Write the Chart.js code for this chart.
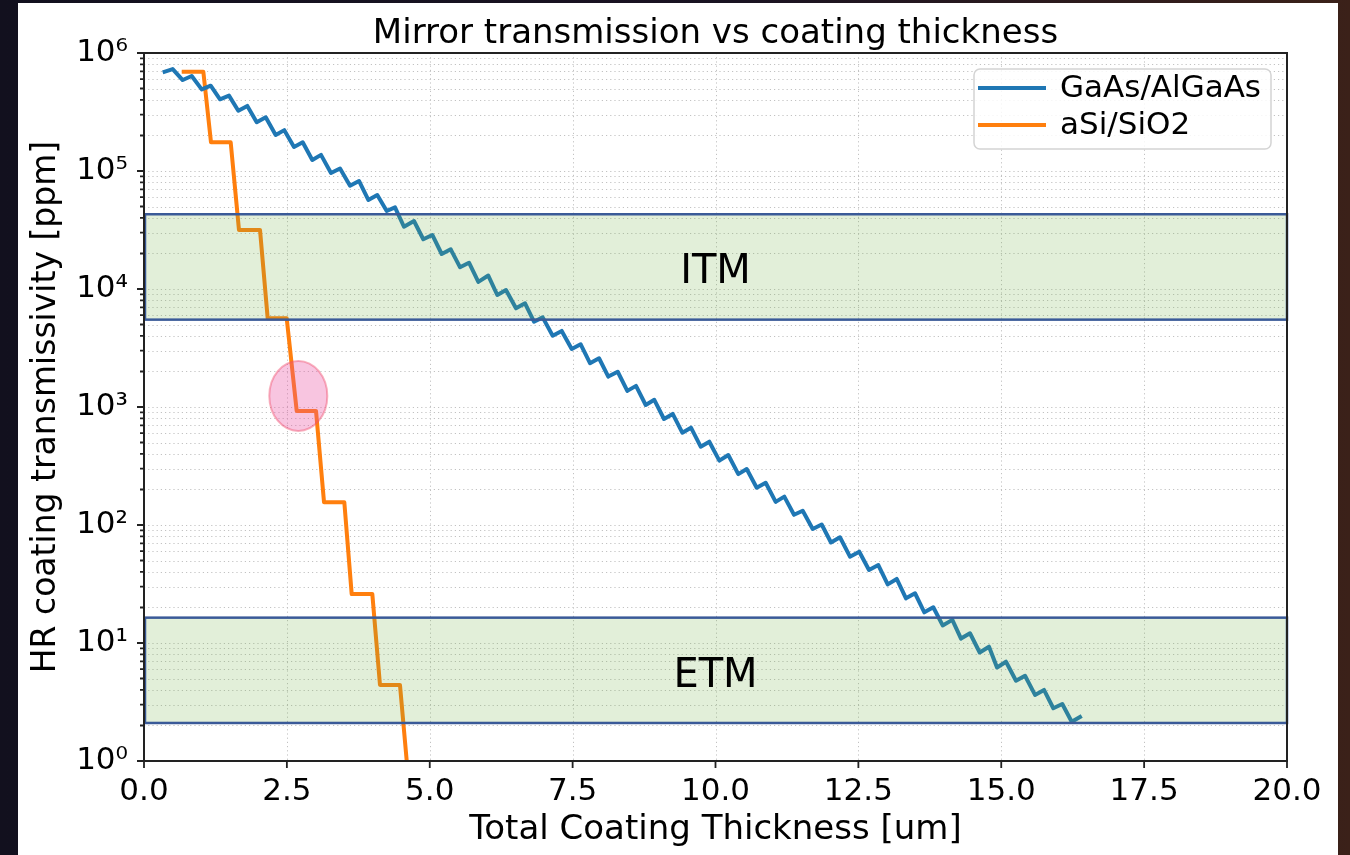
<!DOCTYPE html>
<html>
<head>
<meta charset="utf-8">
<script src="https://cdn.jsdelivr.net/npm/chart.js@4.4.1/dist/chart.umd.min.js"></script>
<style>
  html, body { margin: 0; padding: 0; width: 1350px; height: 855px; overflow: hidden;
    background: linear-gradient(to right, #12101e 0%, #1a1322 55%, #3b2119 100%); }
  #wrap { position: absolute; left: 18px; top: 3px; width: 1320px; height: 852px; background: #fff; }
  canvas { display: block; }
</style>
</head>
<body>
<div id="wrap"><canvas id="c" width="1320" height="852"></canvas></div>
<script>
// Transmission of a GaAs/AlGaAs stack, one point per deposited layer
const gaasThickness = [
  0.327, 0.502, 0.677, 0.835, 1.010, 1.167, 1.330, 1.487, 1.650, 1.808,
  1.972, 2.130, 2.304, 2.455, 2.625, 2.777, 2.945, 3.097, 3.272, 3.430,
  3.605, 3.762, 3.925, 4.082, 4.247, 4.392, 4.549, 4.724, 4.887, 5.045,
  5.209, 5.367, 5.529, 5.687, 5.850, 6.024, 6.182, 6.334, 6.509, 6.667,
  6.824, 6.976, 7.151, 7.309, 7.484, 7.641, 7.804, 7.962, 8.124, 8.289,
  8.457, 8.609, 8.779, 8.929, 9.099, 9.251, 9.419, 9.571, 9.741, 9.892,
  10.067, 10.224, 10.399, 10.546, 10.721, 10.878, 11.053, 11.204, 11.374, 11.526,
  11.701, 11.858, 12.021, 12.178, 12.353, 12.516, 12.686, 12.849, 13.013, 13.171,
  13.333, 13.491, 13.654, 13.811, 13.975, 14.144, 14.296, 14.453, 14.623, 14.786,
  14.926, 15.083, 15.258, 15.416, 15.591, 15.748, 15.911, 16.068, 16.233, 16.408
];
const gaasTransmission = [
  6.86e5, 7.31e5, 5.90e5, 6.38e5, 4.92e5, 5.28e5, 4.05e5, 4.35e5, 3.24e5, 3.56e5,
  2.59e5, 2.85e5, 2.02e5, 2.22e5, 1.60e5, 1.75e5, 1.24e5, 1.37e5, 9.62e4, 1.05e5,
  7.50e4, 8.23e4, 5.68e4, 6.26e4, 4.58e4, 4.92e4, 3.37e4, 3.77e4, 2.64e4, 2.87e4,
  1.98e4, 2.17e4, 1.53e4, 1.67e4, 1.15e4, 1.30e4, 8890, 9810, 6860, 7570,
  5280, 5750, 4020, 4410, 3100, 3400, 2350, 2590, 1810, 1990,
  1370, 1510, 1040, 1150, 791, 873, 606, 668, 461, 508,
  351, 392, 270, 298, 207, 228, 157, 174, 122, 132,
  92.5, 101, 71.1, 78.7, 53.9, 59.4, 41.6, 45.8, 31.4, 34.9,
  23.9, 26.4, 18.2, 20.1, 14.1, 15.7, 10.9, 12.1, 8.31, 9.30,
  6.20, 6.94, 4.79, 5.28, 3.63, 4.00, 2.80, 3.04, 2.15, 2.41
];

// Transmission of an aSi/SiO2 stack
const asiThickness = [0.660, 1.038, 1.172, 1.517, 1.662, 2.030, 2.164, 2.497, 2.672,
  3.010, 3.150, 3.505, 3.634, 3.995, 4.129, 4.479, 4.620];
const asiTransmission = [6.95e5, 6.95e5, 1.75e5, 1.75e5, 3.16e4, 3.16e4, 5650, 5650, 925,
  925, 156, 156, 26.0, 26.0, 4.41, 4.41, 0.75];

const seriesNames = ['GaAs/AlGaAs', 'aSi/SiO2'];

// Axis ticks
const xTickValues = [0, 2.5, 5, 7.5, 10, 12.5, 15, 17.5, 20];
const yDecadeValues = [1, 10, 100, 1000, 1e4, 1e5, 1e6];
const yTickLabels = ['10⁰', '10¹', '10²', '10³', '10⁴', '10⁵', '10⁶'];

// Required transmission ranges (ppm)
const bandNames = ['ITM', 'ETM'];
const bandLow = [5.5e3, 2.1];
const bandHigh = [4.3e4, 16.4];

// Highlighted step of the aSi/SiO2 curve: [thickness, transmission]
const highlightPoint = [2.70, 1240];

const FONT = "'DejaVu Sans', 'Liberation Sans', sans-serif";
Chart.defaults.font.family = FONT;
Chart.defaults.color = '#000';

function yAllTicks() {
  const out = [];
  for (let i = 0; i < yDecadeValues.length; i++) {
    const d = yDecadeValues[i];
    out.push({ value: d, major: true });
    if (i < yDecadeValues.length - 1) {
      for (let k = 2; k <= 9; k++) out.push({ value: d * k, major: false });
    }
  }
  return out;
}

const axesDecor = {
  id: 'axesDecor',
  beforeDatasetsDraw(chart) {
    const { ctx, chartArea: a, scales: { x, y } } = chart;
    ctx.save();
    ctx.strokeStyle = '#c2c2c2';
    ctx.lineWidth = 1;
    ctx.setLineDash([1.2, 3]);
    ctx.beginPath();
    for (const v of xTickValues) {
      const px = Math.round(x.getPixelForValue(v)) + 0.5;
      ctx.moveTo(px, a.top); ctx.lineTo(px, a.bottom);
    }
    for (const t of yAllTicks()) {
      const py = Math.round(y.getPixelForValue(t.value)) + 0.5;
      ctx.moveTo(a.left, py); ctx.lineTo(a.right, py);
    }
    ctx.stroke();
    ctx.restore();
  },
  afterDatasetsDraw(chart) {
    const { ctx, chartArea: a, scales: { x, y } } = chart;
    ctx.save();

    // shaded target bands
    for (let i = 0; i < bandNames.length; i++) {
      const x0 = x.getPixelForValue(0), x1 = x.getPixelForValue(20);
      const y0 = y.getPixelForValue(bandHigh[i]), y1 = y.getPixelForValue(bandLow[i]);
      ctx.fillStyle = 'rgba(110,175,65,0.2)';
      ctx.fillRect(x0, y0, x1 - x0, y1 - y0);
      ctx.strokeStyle = '#3a5a98';
      ctx.lineWidth = 2.5;
      ctx.strokeRect(x0 + 1, y0, x1 - x0 - 1, y1 - y0);
      ctx.fillStyle = '#000';
      ctx.font = '40px ' + FONT;
      ctx.textAlign = 'center';
      ctx.textBaseline = 'middle';
      ctx.fillText(bandNames[i], (a.left + a.right) / 2, (y0 + y1) / 2 + 6);
    }

    // highlight ellipse
    const hx = x.getPixelForValue(highlightPoint[0]);
    const hy = y.getPixelForValue(highlightPoint[1]);
    ctx.beginPath();
    ctx.ellipse(hx, hy, 29, 35, 0, 0, Math.PI * 2);
    ctx.fillStyle = 'rgba(235,80,160,0.33)';
    ctx.fill();
    ctx.strokeStyle = 'rgba(240,80,110,0.45)';
    ctx.lineWidth = 2;
    ctx.stroke();

    // frame
    ctx.strokeStyle = '#222';
    ctx.lineWidth = 2;
    ctx.strokeRect(a.left, a.top, a.right - a.left, a.bottom - a.top);

    // tick marks
    ctx.beginPath();
    for (const v of xTickValues) {
      const px = x.getPixelForValue(v);
      ctx.moveTo(px, a.bottom); ctx.lineTo(px, a.bottom + 7);
    }
    for (const t of yAllTicks()) {
      const py = y.getPixelForValue(t.value);
      ctx.moveTo(a.left, py); ctx.lineTo(a.left - (t.major ? 7 : 4), py);
    }
    ctx.lineWidth = 1.8;
    ctx.stroke();

    // title
    ctx.fillStyle = '#000';
    ctx.font = '34px ' + FONT;
    ctx.textAlign = 'center';
    ctx.textBaseline = 'alphabetic';
    ctx.fillText('Mirror transmission vs coating thickness', (a.left + a.right) / 2, 40);

    // legend
    const lx = 956, ly = 66, lw = 297, lh = 80;
    ctx.beginPath();
    ctx.roundRect(lx, ly, lw, lh, 6);
    ctx.fillStyle = 'rgba(255,255,255,0.85)';
    ctx.fill();
    ctx.strokeStyle = '#d4d4d4';
    ctx.lineWidth = 1.5;
    ctx.stroke();
    chart.data.datasets.forEach((ds, i) => {
      const ry = 85 + i * 37;
      ctx.beginPath();
      ctx.moveTo(960, ry); ctx.lineTo(1028, ry);
      ctx.strokeStyle = ds.borderColor;
      ctx.lineWidth = 4;
      ctx.stroke();
      ctx.fillStyle = '#000';
      ctx.font = '31px ' + FONT;
      ctx.textAlign = 'left';
      ctx.textBaseline = 'middle';
      ctx.fillText(ds.label, 1042, ry + 1);
    });
    ctx.restore();
  }
};

new Chart(document.getElementById('c'), {
  type: 'line',
  data: {
    datasets: [
      {
        label: seriesNames[0],
        data: gaasThickness.map((t, i) => ({ x: t, y: gaasTransmission[i] })),
        borderColor: '#1f77b4', borderWidth: 4, pointRadius: 0, tension: 0,
        borderJoinStyle: 'round', clip: 0
      },
      {
        label: seriesNames[1],
        data: asiThickness.map((t, i) => ({ x: t, y: asiTransmission[i] })),
        borderColor: '#ff7f0e', borderWidth: 4, pointRadius: 0, tension: 0,
        borderJoinStyle: 'round', clip: 0
      }
    ]
  },
  options: {
    responsive: false,
    animation: false,
    events: [],
    layout: { padding: { left: 0, top: 50, right: 51, bottom: 0 } },
    plugins: { legend: { display: false }, title: { display: false }, tooltip: { enabled: false } },
    scales: {
      x: {
        type: 'linear', min: 0, max: 20,
        afterBuildTicks: s => { s.ticks = xTickValues.map(v => ({ value: v })); },
        afterFit: s => { s.height = 94; },
        grid: { display: false, drawTicks: false },
        border: { display: false },
        ticks: { autoSkip: false, maxRotation: 0, padding: 12, font: { size: 31 }, color: '#000',
          callback: v => Number(v).toFixed(1) },
        title: { display: true, text: 'Total Coating Thickness [um]', font: { size: 34, lineHeight: 1 },
          color: '#000', padding: { top: 0, bottom: 8 } }
      },
      y: {
        type: 'logarithmic', min: 1, max: 1e6,
        afterBuildTicks: s => { s.ticks = yAllTicks(); },
        afterFit: s => { s.width = 126; },
        grid: { display: false, drawTicks: false },
        border: { display: false },
        ticks: { autoSkip: false, padding: 16, font: { size: 31 }, color: '#000',
          callback: v => { const i = yDecadeValues.indexOf(v); return i >= 0 ? yTickLabels[i] : ''; } },
        title: { display: true, text: 'HR coating transmissivity [ppm]', font: { size: 33, lineHeight: 1 },
          color: '#000', padding: { top: 12, bottom: 0 } }
      }
    }
  },
  plugins: [axesDecor]
});
</script>
</body>
</html>
